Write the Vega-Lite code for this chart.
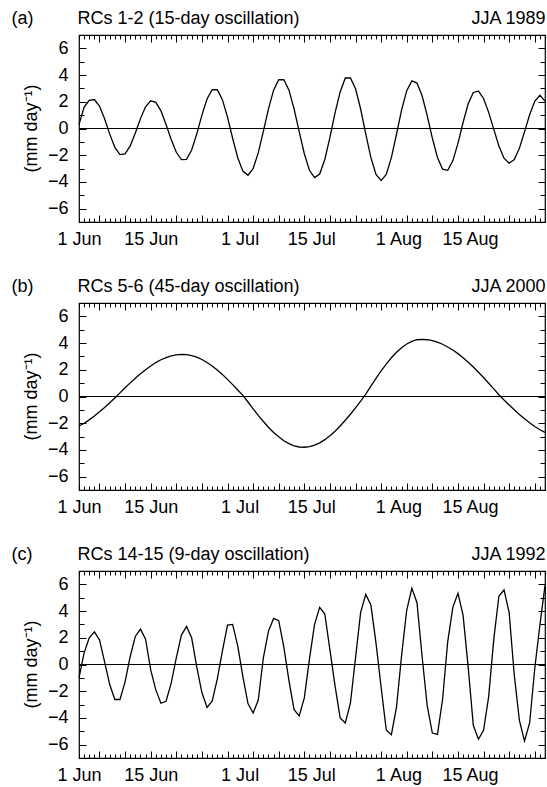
{
  "$schema": "https://vega.github.io/schema/vega-lite/v6.json",
  "background": "white",
  "padding": {"left": 10, "top": 8, "right": 2, "bottom": 0},
  "spacing": 81,
  "bounds": "flush",
  "config": {
    "view": {"stroke": "black", "strokeWidth": 1.2},
    "font": "Liberation Sans",
    "axis": {"domain": false, "grid": false, "labelFont": "Liberation Sans", "labelFontSize": 18, "labelColor": "black", "tickColor": "black", "tickWidth": 1, "titleFont": "Liberation Sans", "titleFontSize": 18, "titleFontWeight": "normal", "titleColor": "black"}
  },
  "datasets": {
    "rcs_1_2_jja_1989": [
      {"date":"1989-06-01","value":0.3},{"date":"1989-06-02","value":1.6},{"date":"1989-06-03","value":2.1},{"date":"1989-06-04","value":2.17},{"date":"1989-06-05","value":1.68},{"date":"1989-06-06","value":0.73},{"date":"1989-06-07","value":-0.42},{"date":"1989-06-08","value":-1.41},{"date":"1989-06-09","value":-1.95},{"date":"1989-06-10","value":-1.9},
      {"date":"1989-06-11","value":-1.3},{"date":"1989-06-12","value":-0.33},{"date":"1989-06-13","value":0.74},{"date":"1989-06-14","value":1.63},{"date":"1989-06-15","value":2.07},{"date":"1989-06-16","value":1.96},{"date":"1989-06-17","value":1.32},{"date":"1989-06-18","value":0.3},{"date":"1989-06-19","value":-0.82},{"date":"1989-06-20","value":-1.78},
      {"date":"1989-06-21","value":-2.33},{"date":"1989-06-22","value":-2.31},{"date":"1989-06-23","value":-1.61},{"date":"1989-06-24","value":-0.4},{"date":"1989-06-25","value":1.0},{"date":"1989-06-26","value":2.21},{"date":"1989-06-27","value":2.91},{"date":"1989-06-28","value":2.9},{"date":"1989-06-29","value":2.16},{"date":"1989-06-30","value":0.85},
      {"date":"1989-07-01","value":-0.73},{"date":"1989-07-02","value":-2.19},{"date":"1989-07-03","value":-3.19},{"date":"1989-07-04","value":-3.5},{"date":"1989-07-05","value":-3.01},{"date":"1989-07-06","value":-1.83},{"date":"1989-07-07","value":-0.22},{"date":"1989-07-08","value":1.47},{"date":"1989-07-09","value":2.87},{"date":"1989-07-10","value":3.65},
      {"date":"1989-07-11","value":3.65},{"date":"1989-07-12","value":2.87},{"date":"1989-07-13","value":1.47},{"date":"1989-07-14","value":-0.24},{"date":"1989-07-15","value":-1.89},{"date":"1989-07-16","value":-3.13},{"date":"1989-07-17","value":-3.68},{"date":"1989-07-18","value":-3.41},{"date":"1989-07-19","value":-2.32},{"date":"1989-07-20","value":-0.66},
      {"date":"1989-07-21","value":1.17},{"date":"1989-07-22","value":2.74},{"date":"1989-07-23","value":3.78},{"date":"1989-07-24","value":3.78},{"date":"1989-07-25","value":2.97},{"date":"1989-07-26","value":1.46},{"date":"1989-07-27","value":-0.4},{"date":"1989-07-28","value":-2.18},{"date":"1989-07-29","value":-3.44},{"date":"1989-07-30","value":-3.9},
      {"date":"1989-07-31","value":-3.44},{"date":"1989-08-01","value":-2.18},{"date":"1989-08-02","value":-0.43},{"date":"1989-08-03","value":1.39},{"date":"1989-08-04","value":2.83},{"date":"1989-08-05","value":3.56},{"date":"1989-08-06","value":3.4},{"date":"1989-08-07","value":2.45},{"date":"1989-08-08","value":0.96},{"date":"1989-08-09","value":-0.72},
      {"date":"1989-08-10","value":-2.17},{"date":"1989-08-11","value":-3.05},{"date":"1989-08-12","value":-3.13},{"date":"1989-08-13","value":-2.42},{"date":"1989-08-14","value":-1.11},{"date":"1989-08-15","value":0.45},{"date":"1989-08-16","value":1.85},{"date":"1989-08-17","value":2.7},{"date":"1989-08-18","value":2.8},{"date":"1989-08-19","value":2.25},
      {"date":"1989-08-20","value":1.21},{"date":"1989-08-21","value":-0.07},{"date":"1989-08-22","value":-1.31},{"date":"1989-08-23","value":-2.22},{"date":"1989-08-24","value":-2.6},{"date":"1989-08-25","value":-2.33},{"date":"1989-08-26","value":-1.48},{"date":"1989-08-27","value":-0.25},{"date":"1989-08-28","value":1.03},{"date":"1989-08-29","value":2.03},
      {"date":"1989-08-30","value":2.49},{"date":"1989-08-31","value":2.05}
    ],
    "rcs_5_6_jja_2000": [
      {"date":"2000-06-01","value":-2.21},{"date":"2000-06-02","value":-2.0},{"date":"2000-06-03","value":-1.75},{"date":"2000-06-04","value":-1.46},{"date":"2000-06-05","value":-1.15},{"date":"2000-06-06","value":-0.82},{"date":"2000-06-07","value":-0.47},{"date":"2000-06-08","value":-0.11},{"date":"2000-06-09","value":0.27},{"date":"2000-06-10","value":0.65},
      {"date":"2000-06-11","value":1.02},{"date":"2000-06-12","value":1.37},{"date":"2000-06-13","value":1.71},{"date":"2000-06-14","value":2.01},{"date":"2000-06-15","value":2.29},{"date":"2000-06-16","value":2.54},{"date":"2000-06-17","value":2.75},{"date":"2000-06-18","value":2.91},{"date":"2000-06-19","value":3.04},{"date":"2000-06-20","value":3.12},
      {"date":"2000-06-21","value":3.15},{"date":"2000-06-22","value":3.13},{"date":"2000-06-23","value":3.06},{"date":"2000-06-24","value":2.94},{"date":"2000-06-25","value":2.77},{"date":"2000-06-26","value":2.55},{"date":"2000-06-27","value":2.29},{"date":"2000-06-28","value":1.98},{"date":"2000-06-29","value":1.65},{"date":"2000-06-30","value":1.28},
      {"date":"2000-07-01","value":0.89},{"date":"2000-07-02","value":0.49},{"date":"2000-07-03","value":0.08},{"date":"2000-07-04","value":-0.41},{"date":"2000-07-05","value":-0.92},{"date":"2000-07-06","value":-1.41},{"date":"2000-07-07","value":-1.87},{"date":"2000-07-08","value":-2.3},{"date":"2000-07-09","value":-2.69},{"date":"2000-07-10","value":-3.02},
      {"date":"2000-07-11","value":-3.31},{"date":"2000-07-12","value":-3.53},{"date":"2000-07-13","value":-3.69},{"date":"2000-07-14","value":-3.78},{"date":"2000-07-15","value":-3.8},{"date":"2000-07-16","value":-3.75},{"date":"2000-07-17","value":-3.64},{"date":"2000-07-18","value":-3.47},{"date":"2000-07-19","value":-3.23},{"date":"2000-07-20","value":-2.94},
      {"date":"2000-07-21","value":-2.6},{"date":"2000-07-22","value":-2.21},{"date":"2000-07-23","value":-1.78},{"date":"2000-07-24","value":-1.33},{"date":"2000-07-25","value":-0.85},{"date":"2000-07-26","value":-0.35},{"date":"2000-07-27","value":0.18},{"date":"2000-07-28","value":0.78},{"date":"2000-07-29","value":1.36},{"date":"2000-07-30","value":1.91},
      {"date":"2000-07-31","value":2.43},{"date":"2000-08-01","value":2.9},{"date":"2000-08-02","value":3.31},{"date":"2000-08-03","value":3.65},{"date":"2000-08-04","value":3.93},{"date":"2000-08-05","value":4.13},{"date":"2000-08-06","value":4.25},{"date":"2000-08-07","value":4.28},{"date":"2000-08-08","value":4.25},{"date":"2000-08-09","value":4.18},
      {"date":"2000-08-10","value":4.07},{"date":"2000-08-11","value":3.91},{"date":"2000-08-12","value":3.71},{"date":"2000-08-13","value":3.48},{"date":"2000-08-14","value":3.21},{"date":"2000-08-15","value":2.9},{"date":"2000-08-16","value":2.57},{"date":"2000-08-17","value":2.21},{"date":"2000-08-18","value":1.82},{"date":"2000-08-19","value":1.42},
      {"date":"2000-08-20","value":0.99},{"date":"2000-08-21","value":0.57},{"date":"2000-08-22","value":0.13},{"date":"2000-08-23","value":-0.26},{"date":"2000-08-24","value":-0.63},{"date":"2000-08-25","value":-0.99},{"date":"2000-08-26","value":-1.34},{"date":"2000-08-27","value":-1.67},{"date":"2000-08-28","value":-1.97},{"date":"2000-08-29","value":-2.24},
      {"date":"2000-08-30","value":-2.49},{"date":"2000-08-31","value":-2.69}
    ],
    "rcs_14_15_jja_1992": [
      {"date":"1992-06-01","value":-1.0},{"date":"1992-06-02","value":0.87},{"date":"1992-06-03","value":2.0},{"date":"1992-06-04","value":2.45},{"date":"1992-06-05","value":1.85},{"date":"1992-06-06","value":0.2},{"date":"1992-06-07","value":-1.5},{"date":"1992-06-08","value":-2.62},{"date":"1992-06-09","value":-2.62},{"date":"1992-06-10","value":-1.3},
      {"date":"1992-06-11","value":0.6},{"date":"1992-06-12","value":2.1},{"date":"1992-06-13","value":2.65},{"date":"1992-06-14","value":1.9},{"date":"1992-06-15","value":-0.4},{"date":"1992-06-16","value":-1.9},{"date":"1992-06-17","value":-2.9},{"date":"1992-06-18","value":-2.75},{"date":"1992-06-19","value":-1.4},{"date":"1992-06-20","value":0.5},
      {"date":"1992-06-21","value":2.2},{"date":"1992-06-22","value":2.85},{"date":"1992-06-23","value":2.0},{"date":"1992-06-24","value":-0.2},{"date":"1992-06-25","value":-2.1},{"date":"1992-06-26","value":-3.22},{"date":"1992-06-27","value":-2.75},{"date":"1992-06-28","value":-1.1},{"date":"1992-06-29","value":1.0},{"date":"1992-06-30","value":2.95},
      {"date":"1992-07-01","value":3.0},{"date":"1992-07-02","value":1.4},{"date":"1992-07-03","value":-0.9},{"date":"1992-07-04","value":-2.93},{"date":"1992-07-05","value":-3.63},{"date":"1992-07-06","value":-2.68},{"date":"1992-07-07","value":0.5},{"date":"1992-07-08","value":2.5},{"date":"1992-07-09","value":3.45},{"date":"1992-07-10","value":3.28},
      {"date":"1992-07-11","value":1.3},{"date":"1992-07-12","value":-1.2},{"date":"1992-07-13","value":-3.38},{"date":"1992-07-14","value":-3.85},{"date":"1992-07-15","value":-2.5},{"date":"1992-07-16","value":0.4},{"date":"1992-07-17","value":3.0},{"date":"1992-07-18","value":4.28},{"date":"1992-07-19","value":3.78},{"date":"1992-07-20","value":1.1},
      {"date":"1992-07-21","value":-1.6},{"date":"1992-07-22","value":-4.0},{"date":"1992-07-23","value":-4.38},{"date":"1992-07-24","value":-2.9},{"date":"1992-07-25","value":0.5},{"date":"1992-07-26","value":3.9},{"date":"1992-07-27","value":5.25},{"date":"1992-07-28","value":4.45},{"date":"1992-07-29","value":1.6},{"date":"1992-07-30","value":-1.7},
      {"date":"1992-07-31","value":-4.9},{"date":"1992-08-01","value":-5.25},{"date":"1992-08-02","value":-3.2},{"date":"1992-08-03","value":0.7},{"date":"1992-08-04","value":4.08},{"date":"1992-08-05","value":5.7},{"date":"1992-08-06","value":4.63},{"date":"1992-08-07","value":0.6},{"date":"1992-08-08","value":-3.1},{"date":"1992-08-09","value":-5.13},
      {"date":"1992-08-10","value":-5.23},{"date":"1992-08-11","value":-2.6},{"date":"1992-08-12","value":1.7},{"date":"1992-08-13","value":4.28},{"date":"1992-08-14","value":5.33},{"date":"1992-08-15","value":3.7},{"date":"1992-08-16","value":-0.2},{"date":"1992-08-17","value":-4.55},{"date":"1992-08-18","value":-5.6},{"date":"1992-08-19","value":-4.93},
      {"date":"1992-08-20","value":-2.4},{"date":"1992-08-21","value":1.9},{"date":"1992-08-22","value":5.13},{"date":"1992-08-23","value":5.58},{"date":"1992-08-24","value":3.88},{"date":"1992-08-25","value":-0.8},{"date":"1992-08-26","value":-4.18},{"date":"1992-08-27","value":-5.73},{"date":"1992-08-28","value":-4.38},{"date":"1992-08-29","value":-0.3},
      {"date":"1992-08-30","value":2.95},{"date":"1992-08-31","value":5.9}
    ]
  },
  "vconcat": [
    {
      "width": 466, "height": 187,
      "data": {"name": "rcs_1_2_jja_1989"},
      "layer": [
        {"mark": {"type": "line", "color": "black", "strokeWidth": 1.3},
         "encoding": {
           "x": {"field": "date", "type": "temporal",
                 "scale": {"type": "utc", "domain": [{"year":1989,"month":6,"date":1,"utc":true},{"year":1989,"month":8,"date":31,"utc":true}]},
                 "axis": {"orient": "bottom", "title": null, "ticks": false, "labelPadding": 8, "labelFlush": false,
                          "values": [{"year":1989,"month":6,"date":1,"utc":true},{"year":1989,"month":6,"date":15,"utc":true},{"year":1989,"month":7,"date":1,"utc":true},{"year":1989,"month":7,"date":15,"utc":true},{"year":1989,"month":8,"date":1,"utc":true},{"year":1989,"month":8,"date":15,"utc":true}],
                          "labelExpr": "utcFormat(datum.value, '%-d %b')",
                          "labelOffset": {"condition": {"test": "utcmonth(datum.value) > 5", "value": 7}, "value": 0}}},
           "y": {"field": "value", "type": "quantitative",
                 "scale": {"domain": [-7, 7], "nice": false, "zero": false},
                 "axis": {"orient": "left", "values": [-6,-4,-2,0,2,4,6], "ticks": false, "labelPadding": 11,
                          "title": "(mm day⁻¹)", "titleAngle": 270, "titleX": -48, "titleY": 93, "titleAlign": "center", "titleBaseline": "middle"}}
         }},
        {"mark": {"type": "rule", "color": "black", "strokeWidth": 1.2},
         "encoding": {
           "y": {"datum": 0, "type": "quantitative",
                 "axis": {"orient": "left", "values": [-6,-4,-2,0,2,4,6], "labels": false, "tickSize": -7,
                          "title": "(a)", "titleAngle": 0, "titleX": -68, "titleY": -12, "titleAlign": "left", "titleBaseline": "alphabetic"}}
         }},
        {"mark": {"type": "line", "strokeOpacity": 0},
         "encoding": {
           "x": {"field": "date", "type": "temporal", "axis": {"orient": "bottom", "title": null, "labels": false, "tickSize": -4, "tickCount": {"interval": "day", "step": 1}}},
           "y": {"field": "value", "type": "quantitative", "axis": {"orient": "left", "title": null, "labels": false, "tickSize": -5, "values": [-5,-3,-1,1,3,5]}}
         }},
        {"mark": {"type": "line", "strokeOpacity": 0},
         "encoding": {
           "x": {"field": "date", "type": "temporal", "axis": {"orient": "bottom", "title": null, "labels": false, "tickSize": -7,
                 "values": [{"year":1989,"month":6,"date":5,"utc":true},{"year":1989,"month":6,"date":10,"utc":true},{"year":1989,"month":6,"date":15,"utc":true},{"year":1989,"month":6,"date":20,"utc":true},{"year":1989,"month":6,"date":25,"utc":true},{"year":1989,"month":6,"date":30,"utc":true},{"year":1989,"month":7,"date":5,"utc":true},{"year":1989,"month":7,"date":10,"utc":true},{"year":1989,"month":7,"date":15,"utc":true},{"year":1989,"month":7,"date":20,"utc":true},{"year":1989,"month":7,"date":25,"utc":true},{"year":1989,"month":7,"date":30,"utc":true},{"year":1989,"month":8,"date":4,"utc":true},{"year":1989,"month":8,"date":9,"utc":true},{"year":1989,"month":8,"date":14,"utc":true},{"year":1989,"month":8,"date":19,"utc":true},{"year":1989,"month":8,"date":24,"utc":true},{"year":1989,"month":8,"date":29,"utc":true}]}},
           "y": {"field": "value", "type": "quantitative", "axis": {"orient": "right", "title": null, "labels": false, "tickSize": -7, "values": [-6,-4,-2,0,2,4,6]}}
         }},
        {"mark": {"type": "line", "strokeOpacity": 0},
         "encoding": {
           "x": {"field": "date", "type": "temporal", "axis": {"orient": "top", "labels": false, "tickSize": -4, "tickCount": {"interval": "day", "step": 1},
                 "title": "RCs 1-2 (15-day oscillation)", "titleX": -2, "titleY": -12, "titleAlign": "left", "titleBaseline": "alphabetic"}},
           "y": {"field": "value", "type": "quantitative", "axis": {"orient": "right", "title": null, "labels": false, "tickSize": -5, "values": [-5,-3,-1,1,3,5]}}
         }},
        {"mark": {"type": "line", "strokeOpacity": 0},
         "encoding": {
           "x": {"field": "date", "type": "temporal", "axis": {"orient": "top", "labels": false, "tickSize": -7,
                 "title": "JJA 1989", "titleX": 466, "titleY": -12, "titleAlign": "right", "titleBaseline": "alphabetic",
                 "values": [{"year":1989,"month":6,"date":5,"utc":true},{"year":1989,"month":6,"date":10,"utc":true},{"year":1989,"month":6,"date":15,"utc":true},{"year":1989,"month":6,"date":20,"utc":true},{"year":1989,"month":6,"date":25,"utc":true},{"year":1989,"month":6,"date":30,"utc":true},{"year":1989,"month":7,"date":5,"utc":true},{"year":1989,"month":7,"date":10,"utc":true},{"year":1989,"month":7,"date":15,"utc":true},{"year":1989,"month":7,"date":20,"utc":true},{"year":1989,"month":7,"date":25,"utc":true},{"year":1989,"month":7,"date":30,"utc":true},{"year":1989,"month":8,"date":4,"utc":true},{"year":1989,"month":8,"date":9,"utc":true},{"year":1989,"month":8,"date":14,"utc":true},{"year":1989,"month":8,"date":19,"utc":true},{"year":1989,"month":8,"date":24,"utc":true},{"year":1989,"month":8,"date":29,"utc":true}]}},
           "y": {"field": "value", "type": "quantitative", "axis": null}
         }}
      ],
      "resolve": {"axis": {"x": "independent", "y": "independent"}}
    },
    {
      "width": 466, "height": 187,
      "data": {"name": "rcs_5_6_jja_2000"},
      "layer": [
        {"mark": {"type": "line", "color": "black", "strokeWidth": 1.3},
         "encoding": {
           "x": {"field": "date", "type": "temporal",
                 "scale": {"type": "utc", "domain": [{"year":2000,"month":6,"date":1,"utc":true},{"year":2000,"month":8,"date":31,"utc":true}]},
                 "axis": {"orient": "bottom", "title": null, "ticks": false, "labelPadding": 8, "labelFlush": false,
                          "values": [{"year":2000,"month":6,"date":1,"utc":true},{"year":2000,"month":6,"date":15,"utc":true},{"year":2000,"month":7,"date":1,"utc":true},{"year":2000,"month":7,"date":15,"utc":true},{"year":2000,"month":8,"date":1,"utc":true},{"year":2000,"month":8,"date":15,"utc":true}],
                          "labelExpr": "utcFormat(datum.value, '%-d %b')",
                          "labelOffset": {"condition": {"test": "utcmonth(datum.value) > 5", "value": 7}, "value": 0}}},
           "y": {"field": "value", "type": "quantitative",
                 "scale": {"domain": [-7, 7], "nice": false, "zero": false},
                 "axis": {"orient": "left", "values": [-6,-4,-2,0,2,4,6], "ticks": false, "labelPadding": 11,
                          "title": "(mm day⁻¹)", "titleAngle": 270, "titleX": -48, "titleY": 93, "titleAlign": "center", "titleBaseline": "middle"}}
         }},
        {"mark": {"type": "rule", "color": "black", "strokeWidth": 1.2},
         "encoding": {
           "y": {"datum": 0, "type": "quantitative",
                 "axis": {"orient": "left", "values": [-6,-4,-2,0,2,4,6], "labels": false, "tickSize": -7,
                          "title": "(b)", "titleAngle": 0, "titleX": -68, "titleY": -12, "titleAlign": "left", "titleBaseline": "alphabetic"}}
         }},
        {"mark": {"type": "line", "strokeOpacity": 0},
         "encoding": {
           "x": {"field": "date", "type": "temporal", "axis": {"orient": "bottom", "title": null, "labels": false, "tickSize": -4, "tickCount": {"interval": "day", "step": 1}}},
           "y": {"field": "value", "type": "quantitative", "axis": {"orient": "left", "title": null, "labels": false, "tickSize": -5, "values": [-5,-3,-1,1,3,5]}}
         }},
        {"mark": {"type": "line", "strokeOpacity": 0},
         "encoding": {
           "x": {"field": "date", "type": "temporal", "axis": {"orient": "bottom", "title": null, "labels": false, "tickSize": -7,
                 "values": [{"year":2000,"month":6,"date":5,"utc":true},{"year":2000,"month":6,"date":10,"utc":true},{"year":2000,"month":6,"date":15,"utc":true},{"year":2000,"month":6,"date":20,"utc":true},{"year":2000,"month":6,"date":25,"utc":true},{"year":2000,"month":6,"date":30,"utc":true},{"year":2000,"month":7,"date":5,"utc":true},{"year":2000,"month":7,"date":10,"utc":true},{"year":2000,"month":7,"date":15,"utc":true},{"year":2000,"month":7,"date":20,"utc":true},{"year":2000,"month":7,"date":25,"utc":true},{"year":2000,"month":7,"date":30,"utc":true},{"year":2000,"month":8,"date":4,"utc":true},{"year":2000,"month":8,"date":9,"utc":true},{"year":2000,"month":8,"date":14,"utc":true},{"year":2000,"month":8,"date":19,"utc":true},{"year":2000,"month":8,"date":24,"utc":true},{"year":2000,"month":8,"date":29,"utc":true}]}},
           "y": {"field": "value", "type": "quantitative", "axis": {"orient": "right", "title": null, "labels": false, "tickSize": -7, "values": [-6,-4,-2,0,2,4,6]}}
         }},
        {"mark": {"type": "line", "strokeOpacity": 0},
         "encoding": {
           "x": {"field": "date", "type": "temporal", "axis": {"orient": "top", "labels": false, "tickSize": -4, "tickCount": {"interval": "day", "step": 1},
                 "title": "RCs 5-6 (45-day oscillation)", "titleX": -2, "titleY": -12, "titleAlign": "left", "titleBaseline": "alphabetic"}},
           "y": {"field": "value", "type": "quantitative", "axis": {"orient": "right", "title": null, "labels": false, "tickSize": -5, "values": [-5,-3,-1,1,3,5]}}
         }},
        {"mark": {"type": "line", "strokeOpacity": 0},
         "encoding": {
           "x": {"field": "date", "type": "temporal", "axis": {"orient": "top", "labels": false, "tickSize": -7,
                 "title": "JJA 2000", "titleX": 466, "titleY": -12, "titleAlign": "right", "titleBaseline": "alphabetic",
                 "values": [{"year":2000,"month":6,"date":5,"utc":true},{"year":2000,"month":6,"date":10,"utc":true},{"year":2000,"month":6,"date":15,"utc":true},{"year":2000,"month":6,"date":20,"utc":true},{"year":2000,"month":6,"date":25,"utc":true},{"year":2000,"month":6,"date":30,"utc":true},{"year":2000,"month":7,"date":5,"utc":true},{"year":2000,"month":7,"date":10,"utc":true},{"year":2000,"month":7,"date":15,"utc":true},{"year":2000,"month":7,"date":20,"utc":true},{"year":2000,"month":7,"date":25,"utc":true},{"year":2000,"month":7,"date":30,"utc":true},{"year":2000,"month":8,"date":4,"utc":true},{"year":2000,"month":8,"date":9,"utc":true},{"year":2000,"month":8,"date":14,"utc":true},{"year":2000,"month":8,"date":19,"utc":true},{"year":2000,"month":8,"date":24,"utc":true},{"year":2000,"month":8,"date":29,"utc":true}]}},
           "y": {"field": "value", "type": "quantitative", "axis": null}
         }}
      ],
      "resolve": {"axis": {"x": "independent", "y": "independent"}}
    },
    {
      "width": 466, "height": 187,
      "data": {"name": "rcs_14_15_jja_1992"},
      "layer": [
        {"mark": {"type": "line", "color": "black", "strokeWidth": 1.3},
         "encoding": {
           "x": {"field": "date", "type": "temporal",
                 "scale": {"type": "utc", "domain": [{"year":1992,"month":6,"date":1,"utc":true},{"year":1992,"month":8,"date":31,"utc":true}]},
                 "axis": {"orient": "bottom", "title": null, "ticks": false, "labelPadding": 8, "labelFlush": false,
                          "values": [{"year":1992,"month":6,"date":1,"utc":true},{"year":1992,"month":6,"date":15,"utc":true},{"year":1992,"month":7,"date":1,"utc":true},{"year":1992,"month":7,"date":15,"utc":true},{"year":1992,"month":8,"date":1,"utc":true},{"year":1992,"month":8,"date":15,"utc":true}],
                          "labelExpr": "utcFormat(datum.value, '%-d %b')",
                          "labelOffset": {"condition": {"test": "utcmonth(datum.value) > 5", "value": 7}, "value": 0}}},
           "y": {"field": "value", "type": "quantitative",
                 "scale": {"domain": [-7, 7], "nice": false, "zero": false},
                 "axis": {"orient": "left", "values": [-6,-4,-2,0,2,4,6], "ticks": false, "labelPadding": 11,
                          "title": "(mm day⁻¹)", "titleAngle": 270, "titleX": -48, "titleY": 93, "titleAlign": "center", "titleBaseline": "middle"}}
         }},
        {"mark": {"type": "rule", "color": "black", "strokeWidth": 1.2},
         "encoding": {
           "y": {"datum": 0, "type": "quantitative",
                 "axis": {"orient": "left", "values": [-6,-4,-2,0,2,4,6], "labels": false, "tickSize": -7,
                          "title": "(c)", "titleAngle": 0, "titleX": -68, "titleY": -12, "titleAlign": "left", "titleBaseline": "alphabetic"}}
         }},
        {"mark": {"type": "line", "strokeOpacity": 0},
         "encoding": {
           "x": {"field": "date", "type": "temporal", "axis": {"orient": "bottom", "title": null, "labels": false, "tickSize": -4, "tickCount": {"interval": "day", "step": 1}}},
           "y": {"field": "value", "type": "quantitative", "axis": {"orient": "left", "title": null, "labels": false, "tickSize": -5, "values": [-5,-3,-1,1,3,5]}}
         }},
        {"mark": {"type": "line", "strokeOpacity": 0},
         "encoding": {
           "x": {"field": "date", "type": "temporal", "axis": {"orient": "bottom", "title": null, "labels": false, "tickSize": -7,
                 "values": [{"year":1992,"month":6,"date":5,"utc":true},{"year":1992,"month":6,"date":10,"utc":true},{"year":1992,"month":6,"date":15,"utc":true},{"year":1992,"month":6,"date":20,"utc":true},{"year":1992,"month":6,"date":25,"utc":true},{"year":1992,"month":6,"date":30,"utc":true},{"year":1992,"month":7,"date":5,"utc":true},{"year":1992,"month":7,"date":10,"utc":true},{"year":1992,"month":7,"date":15,"utc":true},{"year":1992,"month":7,"date":20,"utc":true},{"year":1992,"month":7,"date":25,"utc":true},{"year":1992,"month":7,"date":30,"utc":true},{"year":1992,"month":8,"date":4,"utc":true},{"year":1992,"month":8,"date":9,"utc":true},{"year":1992,"month":8,"date":14,"utc":true},{"year":1992,"month":8,"date":19,"utc":true},{"year":1992,"month":8,"date":24,"utc":true},{"year":1992,"month":8,"date":29,"utc":true}]}},
           "y": {"field": "value", "type": "quantitative", "axis": {"orient": "right", "title": null, "labels": false, "tickSize": -7, "values": [-6,-4,-2,0,2,4,6]}}
         }},
        {"mark": {"type": "line", "strokeOpacity": 0},
         "encoding": {
           "x": {"field": "date", "type": "temporal", "axis": {"orient": "top", "labels": false, "tickSize": -4, "tickCount": {"interval": "day", "step": 1},
                 "title": "RCs 14-15 (9-day oscillation)", "titleX": -2, "titleY": -12, "titleAlign": "left", "titleBaseline": "alphabetic"}},
           "y": {"field": "value", "type": "quantitative", "axis": {"orient": "right", "title": null, "labels": false, "tickSize": -5, "values": [-5,-3,-1,1,3,5]}}
         }},
        {"mark": {"type": "line", "strokeOpacity": 0},
         "encoding": {
           "x": {"field": "date", "type": "temporal", "axis": {"orient": "top", "labels": false, "tickSize": -7,
                 "title": "JJA 1992", "titleX": 466, "titleY": -12, "titleAlign": "right", "titleBaseline": "alphabetic",
                 "values": [{"year":1992,"month":6,"date":5,"utc":true},{"year":1992,"month":6,"date":10,"utc":true},{"year":1992,"month":6,"date":15,"utc":true},{"year":1992,"month":6,"date":20,"utc":true},{"year":1992,"month":6,"date":25,"utc":true},{"year":1992,"month":6,"date":30,"utc":true},{"year":1992,"month":7,"date":5,"utc":true},{"year":1992,"month":7,"date":10,"utc":true},{"year":1992,"month":7,"date":15,"utc":true},{"year":1992,"month":7,"date":20,"utc":true},{"year":1992,"month":7,"date":25,"utc":true},{"year":1992,"month":7,"date":30,"utc":true},{"year":1992,"month":8,"date":4,"utc":true},{"year":1992,"month":8,"date":9,"utc":true},{"year":1992,"month":8,"date":14,"utc":true},{"year":1992,"month":8,"date":19,"utc":true},{"year":1992,"month":8,"date":24,"utc":true},{"year":1992,"month":8,"date":29,"utc":true}]}},
           "y": {"field": "value", "type": "quantitative", "axis": null}
         }}
      ],
      "resolve": {"axis": {"x": "independent", "y": "independent"}}
    }
  ]
}
